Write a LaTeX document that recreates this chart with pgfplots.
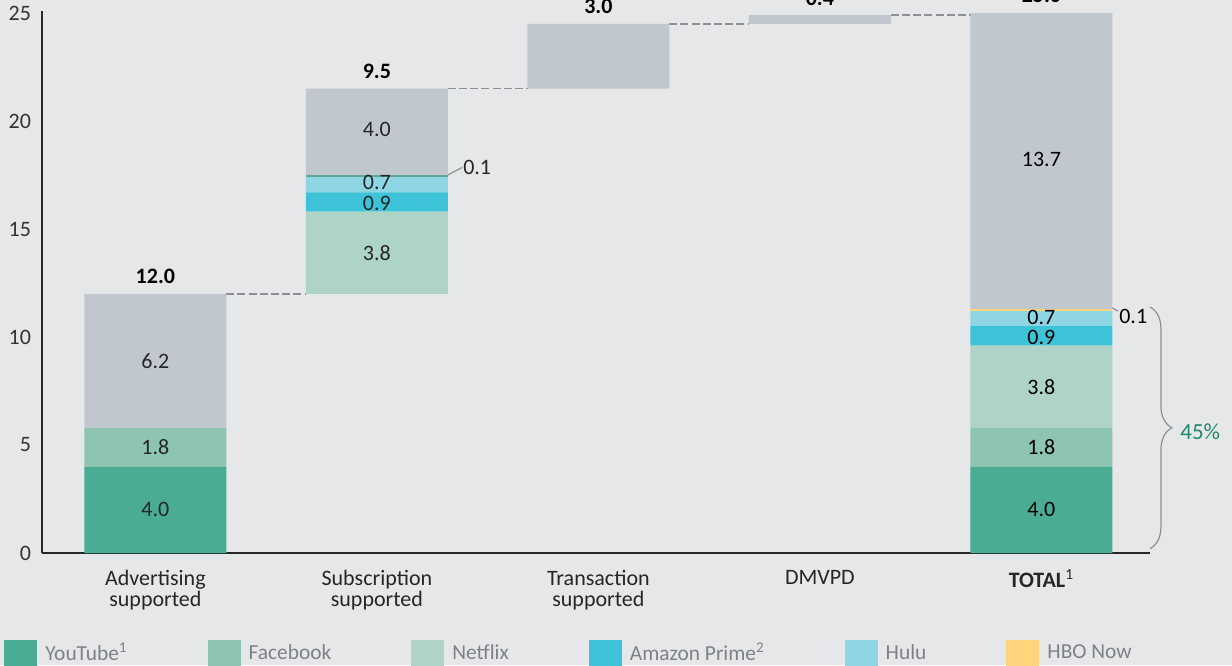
\documentclass[border=0pt]{standalone}
\usepackage{fontspec}
\setmainfont{Carlito}
\usepackage{pgfplots}
\pgfplotsset{compat=1.18}
\usetikzlibrary{decorations.pathreplacing}

\definecolor{bg}{HTML}{E6E7E9}
\definecolor{other}{HTML}{C1C7CE}
\definecolor{youtube}{HTML}{4AAC94}
\definecolor{facebook}{HTML}{8EC4B2}
\definecolor{netflix}{HTML}{AED4C7}
\definecolor{amazon}{HTML}{3CC3D8}
\definecolor{hulu}{HTML}{8ED6E3}
\definecolor{hbo}{HTML}{FFD47A}
\definecolor{hbosub}{HTML}{5FA593}
\definecolor{dashcol}{HTML}{8C9096}
\definecolor{legtext}{HTML}{7D8289}
\definecolor{pct}{HTML}{1E8A6B}

\tikzset{
  toplab/.style={font=\fontsize{11}{13}\selectfont\bfseries, anchor=base, inner sep=0pt, yshift=5pt},
  seglab/.style={font=\fontsize{11}{13}\selectfont, text=black!85, inner sep=0pt},
  totlab/.style={font=\fontsize{11}{13}\selectfont, text=black, inner sep=0pt},
  conn/.style={dashcol, line width=0.8pt, dash pattern=on 4pt off 1.6pt},
}

\begin{document}
\begin{tikzpicture}
\fill[bg] (-21pt,-56pt) rectangle (595pt,276.5pt);
\begin{axis}[
  at={(0,0)}, anchor=south west,
  x=110.75pt, y=10.8pt,
  xmin=-0.512, xmax=4.49, ymin=0, ymax=25.1,
  ybar stacked, bar width=71pt,
  axis lines*=left,
  axis line style={draw=black!85, line width=0.7pt},
  major tick length=0pt,
  ytick={0,5,...,25},
  xtick={0,...,4},
  xticklabels={Advertising\\supported, Subscription\\supported, Transaction\\supported, DMVPD, \textbf{TOTAL}\textsuperscript{1}},
  x tick label style={align=center, font=\fontsize{11}{10.5}\selectfont, text=black!85, yshift=-5pt},
  y tick label style={font=\fontsize{11}{13}\selectfont, text=black!80, xshift=-2pt},
  /pgf/number format/assume math mode=true,
  clip=false,
  legend columns=6,
  legend cell align=left,
  legend style={at={(-0.0343,-0.1575)}, anchor=north west, draw=none, fill=none,
    inner sep=0pt, font=\fontsize{10.7}{13}\selectfont, text=legtext,
    /tikz/every odd column/.append style={column sep=2pt},
    /tikz/every even column/.append style={column sep=38pt}},
  legend image code/.code={\fill[#1] (0pt,-6.5pt) rectangle (16.5pt,6.5pt);},
  legend entries={YouTube\textsuperscript{1}, Facebook, Netflix, Amazon Prime\textsuperscript{2}, Hulu, HBO Now},
]
\addlegendimage{fill=youtube, draw=none}
\addlegendimage{fill=facebook, draw=none}
\addlegendimage{fill=netflix, draw=none}
\addlegendimage{fill=amazon, draw=none}
\addlegendimage{fill=hulu, draw=none}
\addlegendimage{fill=hbo, draw=none}
% invisible base of the floating bars
\addplot[fill=none, draw=none] coordinates {(0,0) (1,12.0) (2,21.5) (3,24.5) (4,0)};
\addplot[fill=youtube, draw=none] coordinates {(0,4.0) (1,0) (2,0) (3,0) (4,4.0)};
\addplot[fill=facebook, draw=none] coordinates {(0,1.8) (1,0) (2,0) (3,0) (4,1.8)};
\addplot[fill=netflix, draw=none] coordinates {(0,0) (1,3.8) (2,0) (3,0) (4,3.8)};
\addplot[fill=amazon, draw=none] coordinates {(0,0) (1,0.9) (2,0) (3,0) (4,0.9)};
\addplot[fill=hulu, draw=none] coordinates {(0,0) (1,0.7) (2,0) (3,0) (4,0.7)};
\addplot[fill=hbosub, draw=none] coordinates {(0,0) (1,0.1) (2,0) (3,0) (4,0)};
\addplot[fill=hbo, draw=none] coordinates {(0,0) (1,0) (2,0) (3,0) (4,0.1)};
\addplot[fill=other, draw=none] coordinates {(0,6.2) (1,4.0) (2,3.0) (3,0.4) (4,13.7)};

% connectors
\draw[conn] (axis cs:0.32,12.0) -- (axis cs:0.68,12.0);
\draw[conn] (axis cs:1.32,21.5) -- (axis cs:1.68,21.5);
\draw[conn] (axis cs:2.32,24.5) -- (axis cs:2.68,24.5);
\draw[conn] (axis cs:3.32,24.9) -- (axis cs:3.68,24.9);

% totals above bars
\node[toplab] at (axis cs:0,12.0) {12.0};
\node[toplab] at (axis cs:1,21.5) {9.5};
\node[toplab] at (axis cs:2,24.5) {3.0};
\node[toplab] at (axis cs:3,24.9) {0.4};
\node[toplab] at (axis cs:4,25.0) {25.0};

% label anchors for segment values (set after axis so they sit on top of bars)
\coordinate (a1) at (axis cs:0,2.0);
\coordinate (a2) at (axis cs:0,4.9);
\coordinate (a3) at (axis cs:0,8.9);
\coordinate (s1) at (axis cs:1,13.9);
\coordinate (s2) at (axis cs:1,16.2);
\coordinate (s3) at (axis cs:1,17.15);
\coordinate (s4) at (axis cs:1,19.6);
\coordinate (t1) at (axis cs:4,2.0);
\coordinate (t2) at (axis cs:4,4.9);
\coordinate (t3) at (axis cs:4,7.7);
\coordinate (t4) at (axis cs:4,10.0);
\coordinate (t5) at (axis cs:4,10.9);
\coordinate (t6) at (axis cs:4,18.2);

% 0.1 call-outs
\draw[dashcol, line width=0.6pt] (axis cs:1.32,17.5) -- (axis cs:1.385,17.85);
\node[seglab, anchor=west] at (axis cs:1.388,17.85) {0.1};
\draw[dashcol, line width=0.6pt] (axis cs:4.32,11.35) -- (axis cs:4.345,11.2);
\node[totlab, anchor=west] at (axis cs:4.35,10.93) {0.1};

% brace and share
\draw[dashcol, line width=0.6pt, decorate, decoration={brace, amplitude=11pt}] (axis cs:4.49,11.39) -- (axis cs:4.49,0.2);
\node[seglab, anchor=west, text=pct, xshift=15pt, font=\fontsize{11.5}{13}\selectfont] at (axis cs:4.49,5.6) {45\%};
\end{axis}
\node[seglab] at (a1) {4.0};
\node[seglab] at (a2) {1.8};
\node[seglab] at (a3) {6.2};
\node[seglab] at (s1) {3.8};
\node[seglab] at (s2) {0.9};
\node[seglab] at (s3) {0.7};
\node[seglab] at (s4) {4.0};
\node[totlab] at (t1) {4.0};
\node[totlab] at (t2) {1.8};
\node[totlab] at (t3) {3.8};
\node[totlab] at (t4) {0.9};
\node[totlab] at (t5) {0.7};
\node[totlab] at (t6) {13.7};
\pgfresetboundingbox
\path[use as bounding box] (-21pt,-56pt) rectangle (595pt,276.5pt);
\end{tikzpicture}
\end{document}
